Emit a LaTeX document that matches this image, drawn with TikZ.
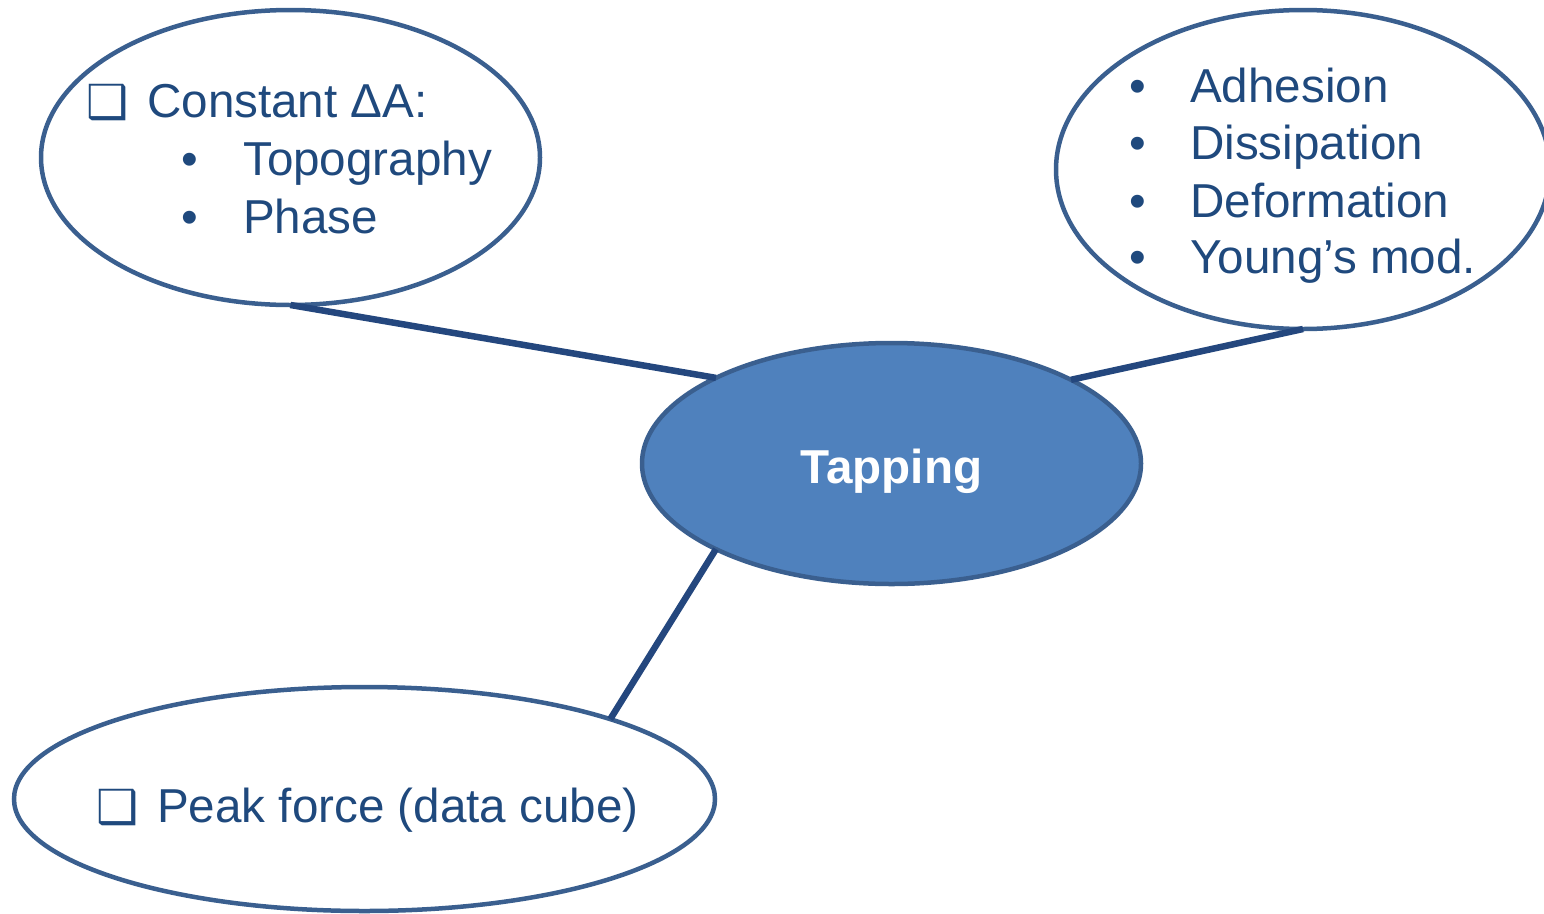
\documentclass[tikz,border=0pt]{standalone}
\usepackage{fontspec}
\setmainfont{Liberation Sans}
\newfontfamily\dejavu{DejaVu Sans}
\usetikzlibrary{shapes.geometric}
\definecolor{txtblue}{HTML}{1F497D}
\definecolor{edgeblue}{HTML}{3A5F8F}
\definecolor{lineblue}{HTML}{24477E}
\definecolor{fillblue}{HTML}{4F81BD}
\tikzset{
  oval/.style={ellipse, draw=edgeblue, line width=4.5pt, inner sep=0pt, outer sep=0pt},
  lbl/.style={anchor=base west, inner sep=0pt, text=txtblue, font=\fontsize{47.6}{57}\selectfont},
  dot/.style={anchor=base, inner sep=0pt, text=txtblue, font=\fontsize{47.6}{57}\selectfont},
  chk/.style={anchor=base west, inner sep=0pt, text=txtblue, font=\dejavu\fontsize{47}{57}\selectfont},
  conn/.style={draw=lineblue, line width=6.5pt}
}
\begin{document}
\begin{tikzpicture}[x=1pt,y=-1pt]
\useasboundingbox (0,0) rectangle (1544,913);
% ellipses
\node[oval, minimum width=499pt, minimum height=295pt] (tl) at (290.5,157.5) {};
\node[oval, minimum width=494pt, minimum height=319pt] (tr) at (1303,169.5) {};
\node[oval, minimum width=701pt, minimum height=224pt] (bl) at (364.5,799) {};
\node[oval, fill=fillblue, draw=edgeblue, minimum width=499pt, minimum height=241pt] (c) at (891.5,463.5) {};
% connectors
\draw[conn] (tl.south) -- (c.154);
\draw[conn] (tr.south) -- (c.25.4);
\draw[conn] (c.206) -- (bl.18.2);
% center text
\node[anchor=base, inner sep=0pt, text=white, font=\fontsize{47.6}{57}\selectfont\bfseries] (tap) at (891.5,483) {Tapping};
% top-left text
\node[chk] (tlb) at (86,118) {❑};
\node[lbl] (tl1) at (147,117) {Constant ΔA:};
\node[dot] (tld2) at (190,175) {•};
\node[lbl] (tl2) at (243,175) {Topography};
\node[dot] (tld3) at (190,233) {•};
\node[lbl] (tl3) at (243,233) {Phase};
% top-right text
\node[dot] (trd1) at (1138,102) {•};
\node[lbl] (tr1) at (1190,102) {Adhesion};
\node[dot] (trd2) at (1138,159.5) {•};
\node[lbl] (tr2) at (1190,159.5) {Dissipation};
\node[dot] (trd3) at (1138,217) {•};
\node[lbl] (tr3) at (1190,217) {Deformation};
\node[dot] (trd4) at (1138,273) {•};
\node[lbl] (tr4) at (1190,273) {Young’s mod.};
% bottom text
\node[chk] (blb) at (96,823) {❑};
\node[lbl] (bl1) at (157,822) {Peak force (data cube)};
\end{tikzpicture}
\end{document}
